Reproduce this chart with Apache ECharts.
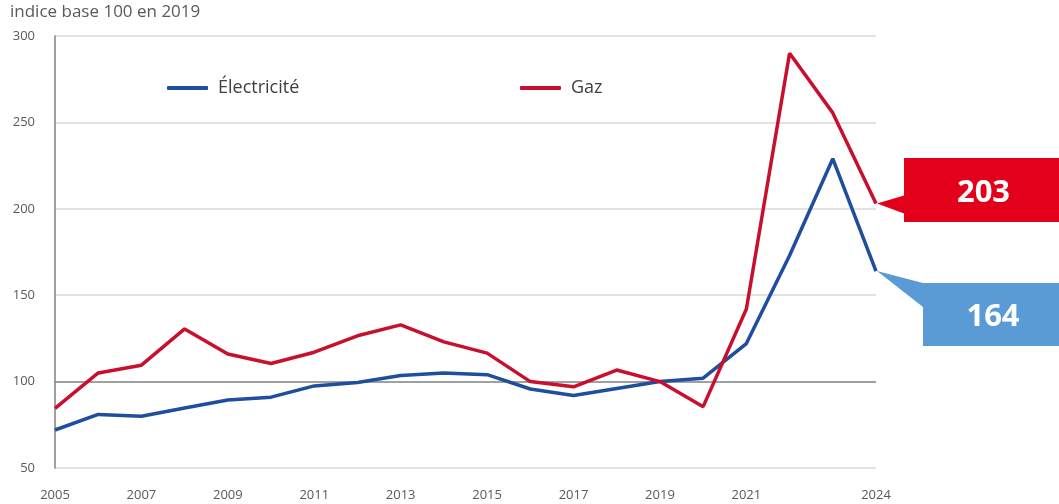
<!DOCTYPE html>
<html>
<head>
<meta charset="utf-8">
<script src="https://cdn.jsdelivr.net/npm/echarts@6/dist/echarts.min.js"></script>
<style>
  html, body { margin: 0; padding: 0; background: #fff; }
  #chart { width: 1059px; height: 504px; }
</style>
</head>
<body>
<div id="chart"></div>
<script>
const years = ["2005", "2006", "2007", "2008", "2009", "2010", "2011", "2012", "2013", "2014",
  "2015", "2016", "2017", "2018", "2019", "2020", "2021", "2022", "2023", "2024"];
const electricite = [72, 81, 80, 84.7, 89.4, 91, 97.5, 99.5, 103.5, 105, 104, 95.7, 92, 96, 100, 102, 122, 173, 229, 164];
const gaz = [84.5, 105, 109.5, 130.5, 116, 110.5, 117, 126.5, 132.8, 123, 116.5, 100, 97, 106.7, 100, 85.5, 142, 290, 255.5, 203];
const yTicks = [50, 100, 150, 200, 250, 300];

const font = "'Open Sans', 'Noto Sans', sans-serif";
const chart = echarts.init(document.getElementById("chart"));

const legendBase = {
  top: 79,
  padding: 0,
  icon: "roundRect",
  itemWidth: 41,
  itemHeight: 4,
  textStyle: { fontFamily: font, fontSize: 18, color: "#404040", padding: [0, 0, 0, 5] },
};

const option = {
  animation: false,
  title: {
    text: "indice base 100 en 2019",
    left: 10,
    top: 4,
    padding: 0,
    textStyle: { fontFamily: font, fontSize: 17, fontWeight: "normal", color: "#595959" },
  },
  legend: [
    { ...legendBase, data: ["Électricité"], left: 167 },
    { ...legendBase, data: ["Gaz"], left: 520 },
  ],
  grid: { left: 55, right: 183, top: 36, bottom: 36, containLabel: false },
  xAxis: {
    type: "category",
    data: years,
    boundaryGap: false,
    axisLine: { show: false },
    axisTick: { show: false },
    axisLabel: {
      interval: (i) => i === years.length - 1 || (i % 2 === 0 && i !== years.length - 2),
      margin: 21,
      fontFamily: font,
      fontSize: 13,
      color: "#595959",
    },
  },
  yAxis: {
    type: "value",
    min: yTicks[0],
    max: yTicks[yTicks.length - 1],
    interval: 50,
    axisLine: { show: true, lineStyle: { color: "#808080", width: 1.5 } },
    axisTick: { show: false },
    axisLabel: { margin: 20, fontFamily: font, fontSize: 13, color: "#595959" },
    splitLine: {
      lineStyle: {
        color: ["#d9d9d9", "#808080", "#d9d9d9", "#d9d9d9", "#d9d9d9", "#d9d9d9"],
        width: 1.5,
      },
    },
  },
  series: [
    {
      name: "Électricité",
      type: "line",
      data: electricite,
      symbol: "none",
      color: "#1F4E9C",
      lineStyle: { width: 3.5, color: "#1F4E9C" },
      z: 3,
    },
    {
      name: "Gaz",
      type: "line",
      data: gaz,
      symbol: "none",
      color: "#C8102E",
      lineStyle: { width: 3.5, color: "#C8102E" },
      z: 4,
    },
  ],
};
chart.setOption(option);

// callouts anchored to the last data points
const last = years.length - 1;
const pG = chart.convertToPixel({ seriesIndex: 1 }, [last, gaz[last]]);
const pE = chart.convertToPixel({ seriesIndex: 0 }, [last, electricite[last]]);
const W = 1059;

function callout(tip, boxLeft, boxTop, boxH, baseTop, baseBot, fill, text) {
  const tx = tip[0] + 1, ty = tip[1];
  return [
    {
      type: "polygon",
      shape: {
        points: [
          [boxLeft, boxTop], [W + 2, boxTop], [W + 2, boxTop + boxH], [boxLeft, boxTop + boxH],
          [boxLeft, baseBot], [tx, ty], [boxLeft, baseTop],
        ],
      },
      style: { fill: fill },
      z: 10,
    },
    {
      type: "text",
      style: {
        text: text,
        x: (boxLeft + W) / 2 + 2,
        y: boxTop + boxH / 2 + 3,
        align: "center",
        verticalAlign: "middle",
        fill: "#ffffff",
        font: "bold 31px 'Open Sans', 'Noto Sans', sans-serif",
      },
      z: 11,
    },
  ];
}

chart.setOption({
  graphic: [
    ...callout(pG, 904, 158, 64, pG[1] - 8, pG[1] + 10, "#E2001A", String(gaz[last])),
    ...callout(pE, 923, 283, 63, 283, 307, "#5B9BD5", String(electricite[last])),
  ],
});
</script>
</body>
</html>
